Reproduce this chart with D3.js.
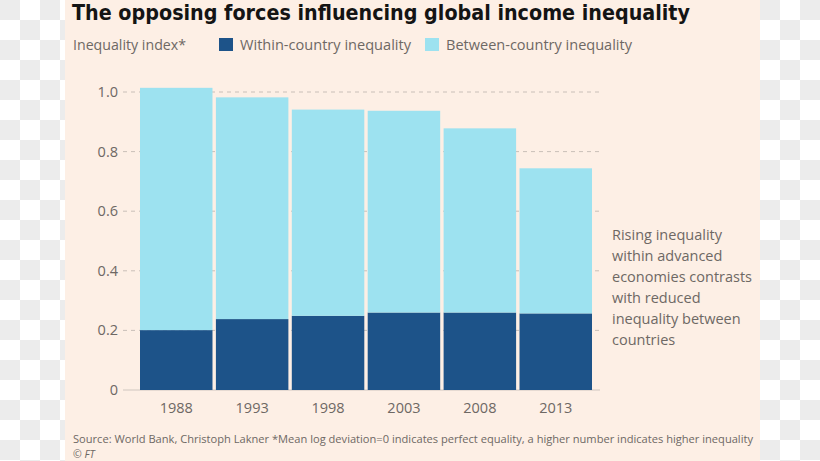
<!DOCTYPE html>
<html>
<head>
<meta charset="utf-8">
<script src="https://cdn.jsdelivr.net/npm/d3@7"></script>
<style>
  html, body { margin: 0; padding: 0; background: #fff; }
  svg { display: block; }
</style>
</head>
<body>
<svg id="chart" width="820" height="461"></svg>
<script>
// ---- data ----
const years = ["1988", "1993", "1998", "2003", "2008", "2013"];
const withinCountry = [0.201, 0.238, 0.249, 0.260, 0.260, 0.257];
const betweenCountry = [0.813, 0.744, 0.692, 0.677, 0.618, 0.487];
const yTicks = [0, 0.2, 0.4, 0.6, 0.8, 1.0];
const yTickLabels = ["0", "0.2", "0.4", "0.6", "0.8", "1.0"];
const seriesNames = ["Within-country inequality", "Between-country inequality"];
const seriesColors = ["#1d5389", "#9de2f0"];
const annotationLines = ["Rising inequality", "within advanced", "economies contrasts", "with reduced", "inequality between", "countries"];

const svg = d3.select("#chart");
const W = 820, H = 461;
const font = "'Open Sans', 'Noto Sans', sans-serif";
const grey = "#6e6864";

// checkerboard background
const sq = 20;
const checker = [];
for (let r = 0; r < Math.ceil(H / sq); r++)
  for (let c = 0; c < Math.ceil(W / sq); c++)
    if ((r + c) % 2 === 0) checker.push([c, r]);
svg.append("rect").attr("width", W).attr("height", H).attr("fill", "#ffffff");
svg.append("g").selectAll("rect").data(checker).join("rect")
  .attr("x", d => d[0] * sq).attr("y", d => d[1] * sq)
  .attr("width", sq).attr("height", sq).attr("fill", "#ececec");

// peach panel
svg.append("rect").attr("x", 65).attr("y", 0).attr("width", 695).attr("height", H).attr("fill", "#fdefe5");

// title
svg.append("text").attr("x", 72).attr("y", 20)
  .attr("font-family", "'DejaVu Sans Condensed', 'DejaVu Sans', sans-serif")
  .attr("font-weight", "bold").attr("font-size", 22).attr("fill", "#141414")
  .attr("textLength", 618).attr("lengthAdjust", "spacingAndGlyphs")
  .text("The opposing forces influencing global income inequality");

// subtitle + legend
svg.append("text").attr("x", 73).attr("y", 50).attr("font-family", font).attr("font-size", 14)
  .attr("fill", grey).attr("textLength", 113).attr("lengthAdjust", "spacingAndGlyphs").text("Inequality index*");
const legendX = [219, 425];
const legendTextLen = [171, 186];
seriesNames.forEach((n, i) => {
  svg.append("rect").attr("x", legendX[i]).attr("y", 38).attr("width", 14).attr("height", 13).attr("fill", seriesColors[i]);
  svg.append("text").attr("x", legendX[i] + 21).attr("y", 50).attr("font-family", font).attr("font-size", 14)
    .attr("fill", grey).attr("textLength", legendTextLen[i]).attr("lengthAdjust", "spacingAndGlyphs").text(n);
});

// scales
const x = d3.scaleBand().domain(years).range([140, 592]).paddingInner(0.045).paddingOuter(0);
const y = d3.scaleLinear().domain([0, 1]).range([390, 92]);

// gridlines
const grid = svg.append("g");
grid.selectAll("line").data(yTicks).join("line")
  .attr("x1", 123).attr("x2", 600)
  .attr("y1", d => y(d)).attr("y2", d => y(d))
  .attr("stroke", d => d === 0 ? "#cfc6bf" : "#c9bfb8").attr("stroke-width", 1)
  .attr("stroke-dasharray", d => d === 0 ? null : "4,4");

// y axis labels
svg.append("g").selectAll("text").data(yTicks).join("text")
  .attr("x", 118).attr("y", d => y(d)).attr("dy", "0.35em")
  .attr("text-anchor", "end").attr("font-family", font).attr("font-size", 14.5).attr("fill", grey)
  .text((d, i) => yTickLabels[i]);

// stacked bars
const table = years.map((yr, i) => ({ year: yr, within: withinCountry[i], between: betweenCountry[i] }));
const stacked = d3.stack().keys(["within", "between"])(table);
svg.append("g").selectAll("g").data(stacked).join("g")
  .attr("fill", (d, i) => seriesColors[i])
  .selectAll("rect").data(d => d).join("rect")
  .attr("x", d => x(d.data.year)).attr("width", x.bandwidth())
  .attr("y", d => y(d[1])).attr("height", d => y(d[0]) - y(d[1]));

// x axis labels
svg.append("g").selectAll("text").data(years).join("text")
  .attr("x", d => x(d) + x.bandwidth() / 2).attr("y", 413)
  .attr("text-anchor", "middle").attr("font-family", font).attr("font-size", 14.5).attr("fill", grey)
  .text(d => d);

// annotation
svg.append("g").selectAll("text").data(annotationLines).join("text")
  .attr("x", 612).attr("y", (d, i) => 240 + i * 21)
  .attr("font-family", font).attr("font-size", 14.5).attr("fill", grey)
  .text(d => d);

// footer
svg.append("text").attr("x", 73).attr("y", 443).attr("font-family", font).attr("font-size", 11.5)
  .attr("fill", grey).attr("textLength", 680).attr("lengthAdjust", "spacingAndGlyphs")
  .text("Source: World Bank, Christoph Lakner *Mean log deviation=0 indicates perfect equality, a higher number indicates higher inequality");
const ft = svg.append("text").attr("x", 73).attr("y", 457.5).attr("font-family", font).attr("font-size", 10.5).attr("fill", grey);
ft.append("tspan").text("© ");
ft.append("tspan").attr("font-style", "italic").text("FT");
</script>
</body>
</html>
